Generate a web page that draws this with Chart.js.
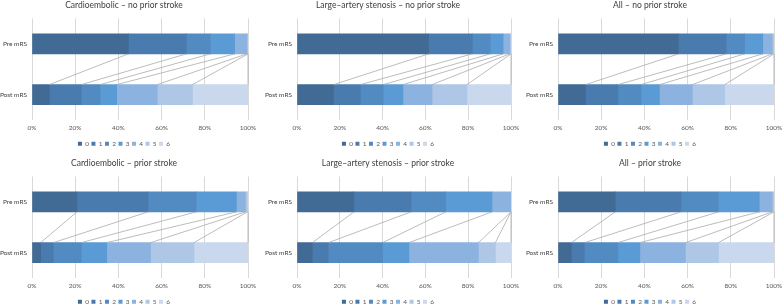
<!DOCTYPE html>
<html>
<head>
<meta charset="utf-8">
<script src="https://cdn.jsdelivr.net/npm/chart.js@4.4.1/dist/chart.umd.min.js"></script>
<style>
  html, body { margin: 0; padding: 0; background: #fff; width: 782px; height: 304px; overflow: hidden; }
  canvas { position: absolute; }
</style>
</head>
<body>
<canvas id="c1" width="260" height="157" style="left:0px;top:0px"></canvas>
<canvas id="c2" width="257" height="157" style="left:265px;top:0px"></canvas>
<canvas id="c3" width="256" height="157" style="left:526px;top:0px"></canvas>
<canvas id="c4" width="260" height="157" style="left:0px;top:158px"></canvas>
<canvas id="c5" width="257" height="157" style="left:265px;top:158px"></canvas>
<canvas id="c6" width="256" height="157" style="left:526px;top:158px"></canvas>
<script>
// categories and legend
const categories = ['Pre mRS', 'Post mRS'];
const mrsGrades = ['0', '1', '2', '3', '4', '5', '6'];
const xTicks = [0, 20, 40, 60, 80, 100];

const titles = [
  'Cardioembolic \u2013 no prior stroke',
  'Large\u2013artery stenosis \u2013 no prior stroke',
  'All \u2013 no prior stroke',
  'Cardioembolic \u2013 prior stroke',
  'Large\u2013artery stenosis \u2013 prior stroke',
  'All \u2013 prior stroke'
];

// % of patients per mRS grade (0..6)
const cardioNoPre  = [44.6, 26.9, 11.1, 11.2, 5.7, 0.5, 0];
const cardioNoPost = [8.0, 14.8, 8.7, 7.7, 18.8, 16.3, 25.7];
const largeNoPre   = [61.5, 20.4, 8.4, 6.0, 3.1, 0.6, 0];
const largeNoPost  = [17.1, 12.5, 10.7, 9.2, 13.6, 16.3, 20.6];
const allNoPre     = [55.8, 22.0, 8.6, 8.4, 4.4, 0.8, 0];
const allNoPost    = [12.8, 14.9, 10.7, 8.6, 15.2, 15.0, 22.8];
const cardioPrPre  = [20.8, 32.9, 22.4, 18.5, 4.2, 0.9, 0.3];
const cardioPrPost = [4.0, 5.9, 12.9, 11.8, 20.3, 20.1, 25.0];
const largePrPre   = [26.6, 26.7, 16.2, 21.6, 8.9, 0, 0];
const largePrPost  = [7.2, 7.5, 25.3, 12.3, 32.5, 7.9, 7.3];
const allPrPre     = [26.5, 30.4, 17.4, 18.9, 6.0, 0.8, 0];
const allPrPost    = [6.2, 6.1, 15.4, 10.2, 21.1, 15.3, 25.7];

const gradeColors = ['#416A95', '#4A7BAF', '#528AC2', '#5B9BD5', '#8CB2DF', '#AEC7E7', '#C9D8ED'];
const fontFamily = "Lato, 'Liberation Sans', Arial, sans-serif";

// lignes entre les barres (series lines comme dans Excel)
const seriesLines = {
  id: 'seriesLines',
  afterDatasetsDraw(chart) {
    const ctx = chart.ctx;
    ctx.save();
    ctx.strokeStyle = '#ABABAB';
    ctx.lineWidth = 0.8;
    chart.data.datasets.forEach(function(ds, i) {
      const bars = chart.getDatasetMeta(i).data;
      const a = bars[0], b = bars[1];
      ctx.beginPath();
      ctx.moveTo(a.x, a.y + a.height / 2);
      ctx.lineTo(b.x, b.y - b.height / 2);
      ctx.stroke();
    });
    ctx.restore();
  }
};

function createChart(id, title, pre, post, rightPad) {
  const ctx = document.getElementById(id).getContext('2d');
  return new Chart(ctx, {
    type: 'bar',
    data: {
      labels: categories,
      datasets: mrsGrades.map(function(g, i) {
        return {
          label: g,
          data: [pre[i], post[i]],
          backgroundColor: gradeColors[i],
          borderWidth: 0
        };
      })
    },
    options: {
      indexAxis: 'y',
      responsive: false,
      animation: false,
      layout: { padding: { top: 0, left: 0, right: rightPad, bottom: 0 } },
      datasets: { bar: { barThickness: 20 } },
      scales: {
        x: {
          stacked: true,
          min: 0,
          max: 100,
          afterBuildTicks: function(scale) {
            scale.ticks = xTicks.map(function(v) { return { value: v }; });
          },
          afterFit: function(scale) {
            scale.height = 18;
            scale.paddingLeft = 0;
            scale.paddingRight = 0;
          },
          grid: { color: '#D9D9D9', lineWidth: 1, drawTicks: false },
          border: { display: false },
          ticks: {
            padding: 4,
            color: '#595959',
            font: { family: fontFamily, size: 6.5 },
            maxRotation: 0,
            callback: function(v) { return v + '%'; }
          }
        },
        y: {
          stacked: true,
          afterFit: function(scale) {
            scale.width = 32;
            scale.paddingTop = 0;
            scale.paddingBottom = 0;
          },
          grid: { display: false, drawTicks: false },
          border: { display: false },
          ticks: {
            padding: 5,
            color: '#404040',
            font: { family: fontFamily, size: 6.5 }
          }
        }
      },
      plugins: {
        title: {
          display: true,
          text: title,
          color: '#404040',
          font: { family: fontFamily, size: 8.5, weight: 'normal', lineHeight: 1 },
          padding: { top: 1, bottom: 9 }
        },
        legend: {
          position: 'bottom',
          labels: {
            boxWidth: 4,
            boxHeight: 4,
            padding: 2.5,
            color: '#595959',
            font: { family: fontFamily, size: 6.5 }
          }
        },
        tooltip: { enabled: false }
      }
    },
    plugins: [seriesLines]
  });
}

createChart('c1', titles[0], cardioNoPre, cardioNoPost, 12);
createChart('c2', titles[1], largeNoPre, largeNoPost, 11);
createChart('c3', titles[2], allNoPre, allNoPost, 8);
createChart('c4', titles[3], cardioPrPre, cardioPrPost, 12);
createChart('c5', titles[4], largePrPre, largePrPost, 11);
createChart('c6', titles[5], allPrPre, allPrPost, 8);
</script>
</body>
</html>
